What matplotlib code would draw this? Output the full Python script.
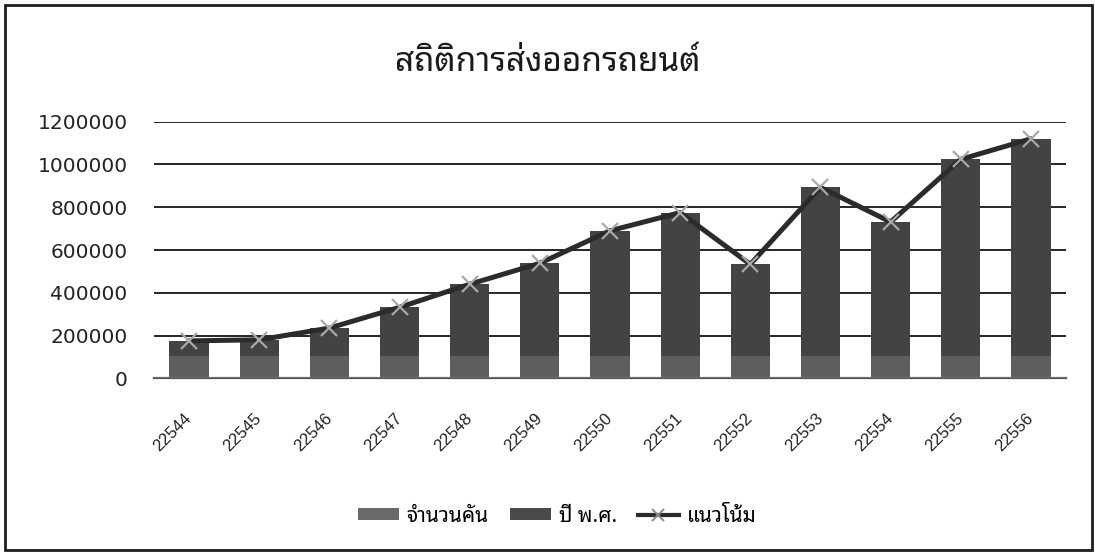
import matplotlib
matplotlib.use("Agg")
import matplotlib.pyplot as plt
from matplotlib import font_manager
from matplotlib.ft2font import FT2Font
from matplotlib.lines import Line2D
from matplotlib.patches import Patch, Rectangle
import numpy as np

# ---------------- data ----------------
categories = ["22544", "22545", "22546", "22547", "22548", "22549", "22550",
              "22551", "22552", "22553", "22554", "22555", "22556"]
car_counts = [175000, 180000, 235000, 332000, 440000, 538000, 690000,
              775000, 533000, 893000, 731000, 1024000, 1120000]
trend = [175000, 180000, 235000, 332000, 440000, 538000, 690000,
         775000, 533000, 893000, 731000, 1024000, 1120000]
yticks = [0, 200000, 400000, 600000, 800000, 1000000, 1200000]
title = "สถิติการส่งออกรถยนต์"
legend_labels = ["จำนวนคัน", "ปี พ.ศ.", "แนวโน้ม"]

# ---------------- find a Thai-capable font ----------------
found = set()
for f in font_manager.fontManager.ttflist:
    try:
        cm = FT2Font(f.fname).get_charmap()
    except Exception:
        continue
    if 0x0E2A in cm and 0x0E49 in cm:
        found.add(f.name)
preferred = ["Noto Sans Thai Looped", "IBM Plex Sans Thai Looped",
             "Sarabun", "Noto Sans Thai", "IBM Plex Sans Thai", "Loma",
             "Garuda", "Umpush"]
thai_family = None
for p in preferred:
    if p in found:
        thai_family = p
        break
if thai_family is None and found:
    thai_family = sorted(found)[0]
fam = [thai_family, "DejaVu Sans"] if thai_family else ["DejaVu Sans"]

W, H = 1095, 552
fig = plt.figure(figsize=(W / 100, H / 100), dpi=100)
fig.patch.set_facecolor("white")

def fx(px):
    return px / W

def fy(py):
    return 1 - py / H

ax = fig.add_axes([fx(154), fy(378.3), fx(1066) - fx(154), fy(121.7) - fy(378.3)])
x = np.arange(len(categories))

ax.set_xlim(-0.5, len(categories) - 0.5)
ax.set_ylim(0, 1200000)
ax.set_yticks(yticks)
ax.set_yticklabels([str(v) for v in yticks], fontsize=14.5, color="#222222",
                   family="DejaVu Sans")
ax.grid(axis="y", color="#262626", linewidth=1.4, zorder=0)
ax.set_axisbelow(True)
for s in ["top", "right", "left"]:
    ax.spines[s].set_visible(False)
ax.spines["bottom"].set_color("#555555")
ax.spines["bottom"].set_linewidth(1.6)
ax.tick_params(axis="y", length=0, pad=19)
ax.tick_params(axis="x", length=0, pad=27)
ax.set_xticks(x)
ax.set_xticklabels(categories, rotation=45, ha="right", va="center",
                   rotation_mode="anchor", fontsize=12, color="#222222",
                   family="Liberation Sans")

ax.bar(x, car_counts, width=0.56, color="#434343", zorder=2)
# lighter lower band (as in the scanned original)
ax.axhspan(0, 105000, color="white", alpha=0.15, zorder=3, linewidth=0)
ax.plot(x, trend, color="#2b2b2b", linewidth=3.6, zorder=4,
        solid_capstyle="round")
ax.plot(x, trend, linestyle="none", marker="x", markersize=11,
        markeredgewidth=1.6, color="#a8a8a8", zorder=5)

fig.text(0.5, fy(62), title, ha="center", va="center", fontsize=24,
         color="#1a1a1a", family=fam)

handles = [Patch(facecolor="#6a6a6a"), Patch(facecolor="#4a4a4a"),
           Line2D([0], [0], color="#2b2b2b", linewidth=3, marker="x",
                  markersize=9, markeredgecolor="#888888", markeredgewidth=1.4)]
fig.legend(handles, legend_labels, loc="center", bbox_to_anchor=(fx(557), fy(516)),
           ncol=3, frameon=False, prop={"family": fam, "size": 15},
           handlelength=2.0, handleheight=0.45, handletextpad=0.35,
           columnspacing=1.0)

fig.add_artist(Rectangle((fx(5), fy(550)), fx(1092) - fx(5), fy(5) - fy(550),
                         transform=fig.transFigure, fill=False,
                         edgecolor="#1e1e1e", linewidth=2))

fig.savefig("out.png", dpi=100, facecolor="white")
